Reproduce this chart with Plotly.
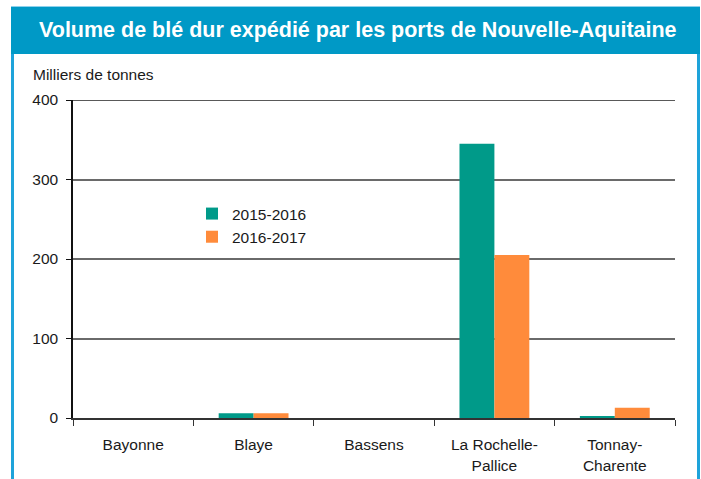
import plotly.graph_objects as go

categories = ["Bayonne", "Blaye", "Bassens", "La Rochelle-<br>Pallice", "Tonnay-<br>Charente"]
series_names = ["2015-2016", "2016-2017"]
values_2015_2016 = [0, 6, 0, 345, 2]
values_2016_2017 = [0, 6, 0, 205, 13]
colors = ["#009a89", "#ff8b3b"]

W, H = 701, 479
L, R, T, B = 73, 26, 100, 61
PW, PH = W - L - R, H - T - B

def px_x(x):
    return (x - L) / PW

def px_y(y):
    return (H - B - y) / PH

fig = go.Figure()
for name, vals, c in zip(series_names, [values_2015_2016, values_2016_2017], colors):
    fig.add_trace(go.Bar(x=categories, y=vals, name=name, marker=dict(color=c, line=dict(width=0))))

shapes = [
    dict(type="rect", xref="paper", yref="paper", x0=px_x(12.5), x1=px_x(698.5), y0=px_y(490), y1=px_y(8),
         line=dict(color="#1ea3da", width=3), fillcolor="rgba(0,0,0,0)", layer="below"),
    dict(type="rect", xref="paper", yref="paper", x0=px_x(11), x1=px_x(700), y0=px_y(54), y1=px_y(7),
         line=dict(width=0), fillcolor="#0099c6", layer="below"),
    dict(type="line", xref="paper", yref="y", x0=0, x1=1, y0=400, y1=400, line=dict(color="#222", width=1.5)),
]

fig.update_layout(
    width=W, height=H,
    margin=dict(l=L, r=R, t=T, b=B, pad=0),
    paper_bgcolor="white", plot_bgcolor="white",
    font=dict(family="Liberation Sans, Arial", size=15.5, color="#1a1a1a"),
    barmode="group", bargap=0.42, bargroupgap=0,
    showlegend=True,
    legend=dict(x=px_x(192), y=px_y(197), xanchor="left", yanchor="top", bgcolor="rgba(0,0,0,0)",
                font=dict(size=15.5), tracegroupgap=2, itemsizing="constant"),
    shapes=shapes,
    annotations=[
        dict(text="<b>Volume de blé dur expédié par les ports de Nouvelle-Aquitaine</b>", xref="paper", yref="paper",
             x=px_x(358), y=px_y(30), xanchor="center", yanchor="middle", showarrow=False,
             font=dict(size=21.5, color="white")),
        dict(text="Milliers de tonnes", xref="paper", yref="paper", x=px_x(31), y=px_y(75),
             xanchor="left", yanchor="middle", showarrow=False, font=dict(size=15.5)),
    ],
)
fig.update_xaxes(showline=True, linecolor="#333", linewidth=1.5, ticks="outside", tickson="boundaries",
                 ticklen=6, tickcolor="#333", showgrid=False, ticklabelstandoff=12, automargin=False)
fig.update_yaxes(range=[0, 400], dtick=100, showline=True, linecolor="#111", linewidth=1.5,
                 ticks="outside", ticklen=5, tickcolor="#111", showgrid=True, gridcolor="#6a6a6a",
                 gridwidth=2, zeroline=False, ticklabelstandoff=5, automargin=False)

fig.write_html("out.html", config={"displayModeBar": False},
               post_script="document.body.style.margin='0';document.body.style.overflow='hidden';")
